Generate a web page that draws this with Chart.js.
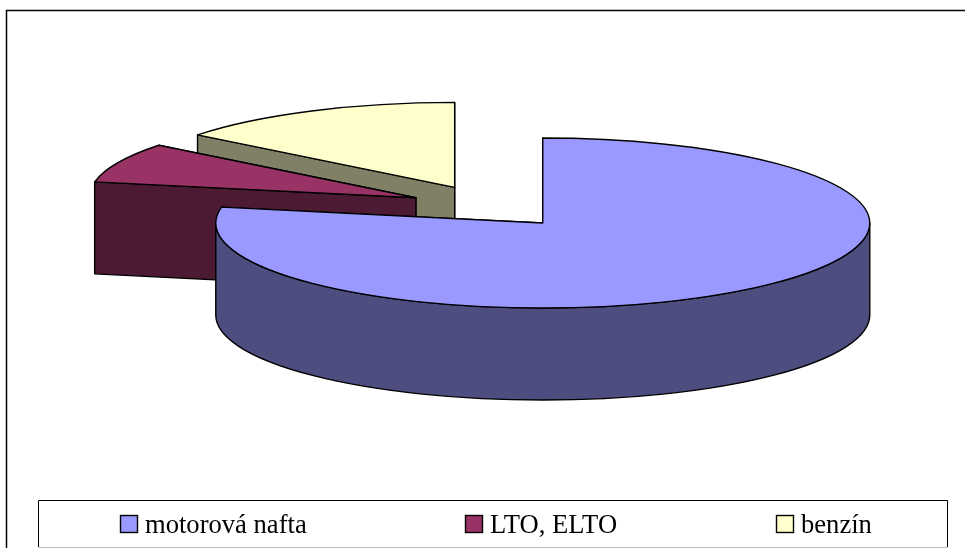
<!DOCTYPE html>
<html>
<head>
<meta charset="utf-8">
<title>Chart</title>
<script src="https://cdn.jsdelivr.net/npm/chart.js@4/dist/chart.umd.min.js"></script>
<style>
html, body { margin: 0; padding: 0; background: #fff; overflow: hidden; }
#box { position: relative; width: 965px; height: 548px; }
</style>
</head>
<body>
<div id="box"><canvas id="fuelChart"></canvas></div>
<script>
const categories = ["motorová nafta", "LTO, ELTO", "benzín"];
const shares = [78, 7.6, 14.4];
const topColors = ["#9999FF", "#993366", "#FFFFCC"];
const wallColors = ["#4D4D80", "#4D1A33", "#808066"];

// look of the fake 3D pie
const PIE_X = 490.5, PIE_Y = 206.6, RADIUS = 327;
const TILT = 0.26, DEPTH = 92, EXPLODE = 82;
const LEGEND_X = [120, 465, 776];

function apexOf(arc) {
    const mid = (arc.startAngle + arc.endAngle) / 2;
    return {
        x: PIE_X + Math.cos(mid) * EXPLODE,
        y: PIE_Y + Math.sin(mid) * EXPLODE * TILT
    };
}

function edgeFace(ctx, apex, r, angle) {
    const ex = apex.x + Math.cos(angle) * r;
    const ey = apex.y + Math.sin(angle) * r * TILT;
    ctx.beginPath();
    ctx.moveTo(apex.x, apex.y);
    ctx.lineTo(ex, ey);
    ctx.lineTo(ex, ey + DEPTH);
    ctx.lineTo(apex.x, apex.y + DEPTH);
    ctx.closePath();
    ctx.fill();
    ctx.stroke();
}

function drawSlice(ctx, arc, index) {
    const apex = apexOf(arc);
    const r = arc.outerRadius;

    ctx.fillStyle = wallColors[index];
    ctx.strokeStyle = "#000";
    ctx.lineWidth = 1.4;
    ctx.lineJoin = "round";

    // radial side walls
    edgeFace(ctx, apex, r, arc.endAngle);
    edgeFace(ctx, apex, r, arc.startAngle);

    // outer wall, only the part that faces the viewer
    const from = Math.max(arc.startAngle, 0);
    const to = Math.min(arc.endAngle, Math.PI);
    if (to > from) {
        ctx.beginPath();
        ctx.ellipse(apex.x, apex.y, r, r * TILT, 0, from, to);
        ctx.ellipse(apex.x, apex.y + DEPTH, r, r * TILT, 0, to, from, true);
        ctx.closePath();
        ctx.fill();
        ctx.stroke();
    }

    // top face is the library's own arc, squashed
    ctx.save();
    ctx.translate(apex.x, apex.y);
    ctx.scale(1, TILT);
    ctx.translate(-arc.x, -arc.y);
    arc.draw(ctx);
    ctx.restore();

    ctx.beginPath();
    ctx.moveTo(apex.x, apex.y);
    ctx.ellipse(apex.x, apex.y, r, r * TILT, 0, arc.startAngle, arc.endAngle);
    ctx.closePath();
    ctx.stroke();
}

const pie3d = {
    id: "pie3d",
    beforeDatasetsDraw(chart) {
        const ctx = chart.ctx;
        const arcs = chart.getDatasetMeta(0).data;
        ctx.save();
        // back slices first, the big one goes on top
        [2, 1, 0].forEach(i => drawSlice(ctx, arcs[i], i));
        ctx.restore();
        return false;
    },
    afterDraw(chart) {
        const ctx = chart.ctx;
        ctx.save();

        // chart frame, cropped on the right and bottom
        ctx.strokeStyle = "#000";
        ctx.lineWidth = 1.5;
        ctx.beginPath();
        ctx.moveTo(6.5, 548);
        ctx.lineTo(6.5, 10.5);
        ctx.lineTo(965, 10.5);
        ctx.stroke();

        // legend frame
        ctx.lineWidth = 1;
        ctx.beginPath();
        ctx.moveTo(38.5, 547);
        ctx.lineTo(38.5, 500.5);
        ctx.lineTo(947.5, 500.5);
        ctx.lineTo(947.5, 547);
        ctx.stroke();
        ctx.strokeStyle = "#bbb";
        ctx.beginPath();
        ctx.moveTo(38.5, 547.5);
        ctx.lineTo(947.5, 547.5);
        ctx.stroke();

        // legend items
        ctx.font = "26.6px 'Liberation Serif'";
        ctx.textBaseline = "alphabetic";
        categories.forEach((label, i) => {
            ctx.fillStyle = topColors[i];
            ctx.strokeStyle = "#000";
            ctx.lineWidth = 1.4;
            ctx.fillRect(LEGEND_X[i] + 0.5, 515.5, 17, 17);
            ctx.strokeRect(LEGEND_X[i] + 0.5, 515.5, 17, 17);
            ctx.fillStyle = "#000";
            ctx.fillText(label, LEGEND_X[i] + 25, 533);
        });
        ctx.restore();
    }
};

document.addEventListener("DOMContentLoaded", function() {
    new Chart(document.getElementById("fuelChart"), {
        type: "pie",
        data: {
            labels: categories,
            datasets: [{
                data: shares,
                backgroundColor: topColors,
                borderWidth: 0,
                hoverOffset: 0
            }]
        },
        options: {
            responsive: true,
            maintainAspectRatio: false,
            animation: false,
            radius: RADIUS,
            plugins: {
                legend: { display: false },
                tooltip: { enabled: false }
            }
        },
        plugins: [pie3d]
    });
});
</script>
</body>
</html>
